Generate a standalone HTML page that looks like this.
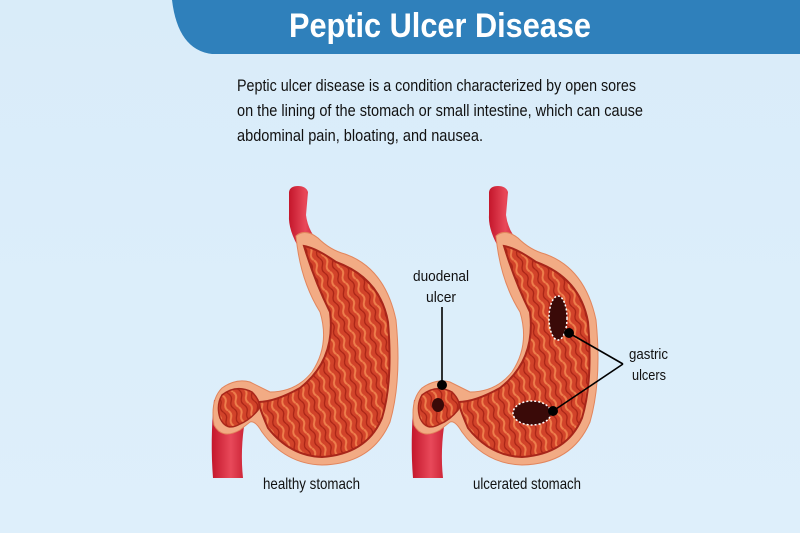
<!DOCTYPE html>
<html><head><meta charset="utf-8"><style>
html,body{margin:0;padding:0;width:800px;height:533px;overflow:hidden;background:#dcedf9;}
svg{display:block}
</style></head><body>
<svg width="800" height="533" viewBox="0 0 800 533" xmlns="http://www.w3.org/2000/svg" font-family="Liberation Sans, sans-serif">
<defs>
<linearGradient id="bg" x1="0" y1="0" x2="0" y2="1"><stop offset="0" stop-color="#d9ecf9"/><stop offset="1" stop-color="#deeffb"/></linearGradient>
<linearGradient id="tube" x1="0" y1="0" x2="1" y2="0"><stop offset="0" stop-color="#c4162b"/><stop offset="0.5" stop-color="#e8495a"/><stop offset="1" stop-color="#c01427"/></linearGradient>
<pattern id="folds" width="16" height="11" patternUnits="userSpaceOnUse" patternTransform="rotate(70)">
<rect width="16" height="11" fill="#d2432a"/>
<path d="M0 3 Q4 0 8 3 T16 3" stroke="#ee7f4c" stroke-width="2" fill="none"/>
<path d="M0 8 Q4 5 8 8 T16 8" stroke="#a82416" stroke-width="1.3" fill="none"/>
</pattern>
<g id="stomach">
<path d="M289 192 Q290 186 298 186 Q306 186 308 192 L306 215 Q308 232 322 246 L300 250 Q288 230 289 215 Z" fill="url(#tube)"/>
<path d="M214 400 Q210 440 213 478 L243 478 Q240 450 245 420 L250 395 Z" fill="url(#tube)"/>
<path d="M296 236 Q305 228 318 238 Q330 250 345 254 Q385 268 396 320 Q402 380 390 422 Q372 464 322 465 Q285 464 262 432 Q255 420 250 422 L240 430 Q222 440 214 425 Q210 400 222 388 Q236 378 250 382 Q262 388 270 392 Q296 392 312 372 Q330 345 320 312 Q300 280 296 236 Z" fill="#f2ab84" stroke="#e2855c" stroke-width="1"/>
<path d="M304 246 Q316 248 336 262 Q380 278 388 322 Q393 382 382 418 Q367 454 322 457 Q290 456 268 428 Q262 414 258 402 Q275 402 300 388 Q336 360 330 312 Q315 282 304 246 Z" fill="url(#folds)" stroke="#a8261a" stroke-width="2"/>
<path d="M222 395 Q236 384 252 392 Q262 402 258 410 Q250 420 240 424 Q226 432 220 418 Q216 405 222 395 Z" fill="url(#folds)" stroke="#a8261a" stroke-width="1.5"/>
</g>
</defs>
<rect width="800" height="533" fill="url(#bg)"/>
<path d="M172 0 L800 0 L800 54 L212 54 Q178 50 172 0 Z" fill="#2f80bb"/>
<text x="440" y="37" font-size="34" font-weight="bold" fill="#ffffff" text-anchor="middle" textLength="302" lengthAdjust="spacingAndGlyphs">Peptic Ulcer Disease</text>
<g font-size="17" fill="#111">
<text x="237" y="91" textLength="399" lengthAdjust="spacingAndGlyphs">Peptic ulcer disease is a condition characterized by open sores</text>
<text x="237" y="116" textLength="406" lengthAdjust="spacingAndGlyphs">on the lining of the stomach or small intestine, which can cause</text>
<text x="237" y="141" textLength="246" lengthAdjust="spacingAndGlyphs">abdominal pain, bloating, and nausea.</text>
</g>
<use href="#stomach"/>
<use href="#stomach" transform="translate(200,0)"/>
<ellipse cx="558" cy="318" rx="9" ry="22" fill="#3a0a08" stroke="#fff" stroke-width="1.5" stroke-dasharray="2 2"/>
<ellipse cx="532" cy="413" rx="19" ry="12" fill="#3a0a08" stroke="#fff" stroke-width="1.5" stroke-dasharray="2 2"/>
<ellipse cx="438" cy="405" rx="6" ry="7" fill="#3a0a08"/>
<g stroke="#000" stroke-width="1.6" fill="none">
<line x1="442" y1="307" x2="442" y2="385"/>
<line x1="569" y1="333" x2="623" y2="364"/>
<line x1="553" y1="411" x2="623" y2="364"/>
</g>
<circle cx="442" cy="385" r="5" fill="#000"/>
<circle cx="569" cy="333" r="5" fill="#000"/>
<circle cx="553" cy="411" r="5" fill="#000"/>
<g font-size="15" fill="#111">
<text x="441" y="281" text-anchor="middle" textLength="56" lengthAdjust="spacingAndGlyphs">duodenal</text>
<text x="441" y="302" text-anchor="middle" textLength="30" lengthAdjust="spacingAndGlyphs">ulcer</text>
<text x="629" y="359" textLength="39" lengthAdjust="spacingAndGlyphs">gastric</text>
<text x="632" y="380" textLength="34" lengthAdjust="spacingAndGlyphs">ulcers</text>
<text x="263" y="489" font-size="16" textLength="97" lengthAdjust="spacingAndGlyphs">healthy stomach</text>
<text x="473" y="489" font-size="16" textLength="108" lengthAdjust="spacingAndGlyphs">ulcerated stomach</text>
</g>
</svg>
</body></html>
